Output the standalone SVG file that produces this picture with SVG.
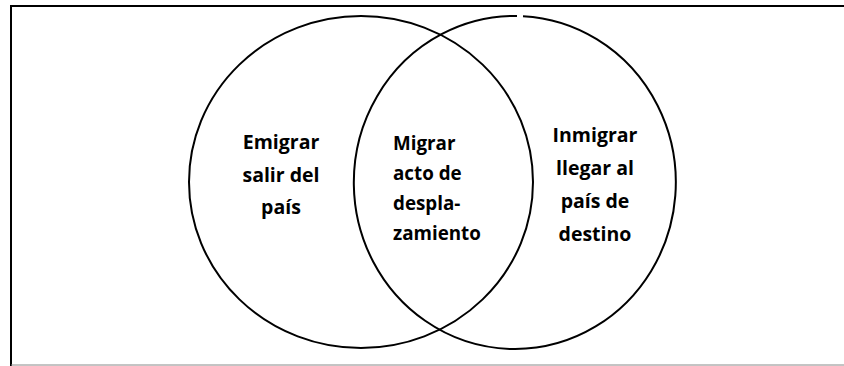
<svg xmlns="http://www.w3.org/2000/svg" width="844" height="366" viewBox="0 0 844 366">
  <style>
    .ring { fill: none; stroke: #000; stroke-width: 2; }
    .lbl { font-family: "Open Sans", "Liberation Sans", sans-serif; font-weight: bold; font-size: 19.5px; fill: #000; }
    .c { text-anchor: middle; }
    .m { font-size: 18.8px; }
  </style>
  <rect width="844" height="366" fill="#fff"/>
  <g id="frame">
    <line x1="10" y1="6" x2="844" y2="6" stroke="#000" stroke-width="2"/>
    <line x1="11" y1="5" x2="11" y2="366" stroke="#000" stroke-width="2"/>
    <line x1="11" y1="365" x2="844" y2="365" stroke="#888" stroke-width="1"/>
  </g>
  <g id="emigrar">
    <ellipse class="ring" cx="361" cy="182" rx="172" ry="166"/>
    <text class="lbl c"><tspan x="281" y="149">Emigrar</tspan><tspan x="281" y="182">salir del</tspan><tspan x="281" y="214">país</tspan></text>
  </g>
  <g id="inmigrar">
    <path class="ring" d="M 523 16.2 A 161 166.5 0 1 1 517 16"/>
    <text class="lbl c"><tspan x="595" y="142">Inmigrar</tspan><tspan x="595" y="175">llegar al</tspan><tspan x="595" y="208">país de</tspan><tspan x="595" y="241">destino</tspan></text>
  </g>
  <g id="migrar">
    <text class="lbl m"><tspan x="393" y="150">Migrar</tspan><tspan x="393" y="180">acto de</tspan><tspan x="393" y="210">despla-</tspan><tspan x="393" y="240">zamiento</tspan></text>
  </g>
  <g id="connectors"/>
</svg>
